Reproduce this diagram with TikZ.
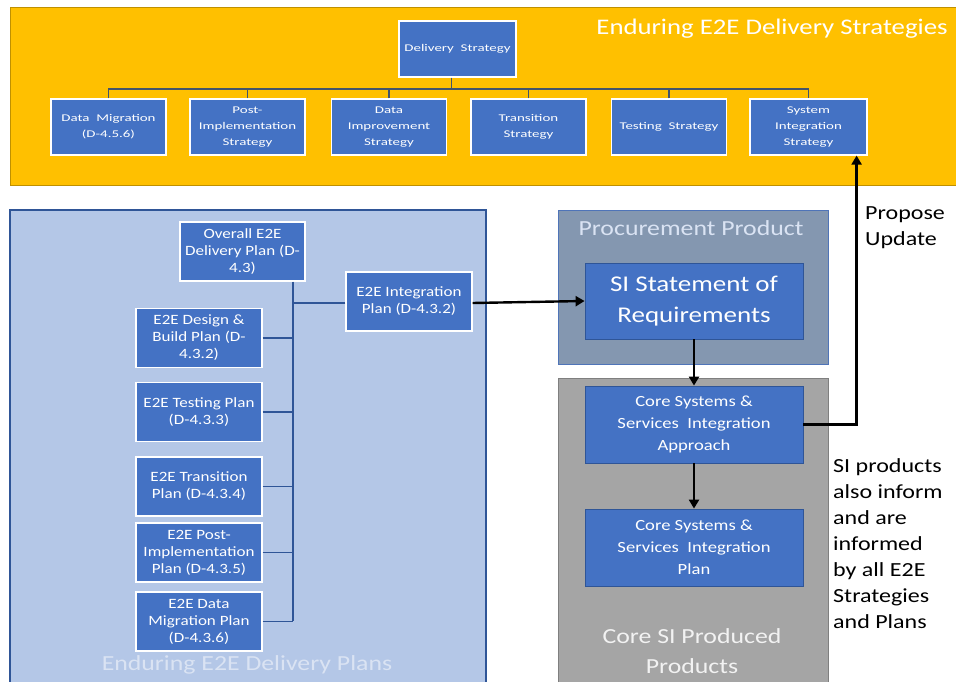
\documentclass[tikz,border=0pt]{standalone}
\usepackage{fontspec}
\setmainfont{Carlito}[FakeStretch=1.2]
\newfontfamily\tinyface{Carlito}[FakeStretch=1.45]
\usetikzlibrary{arrows.meta}
\definecolor{gold}{HTML}{FFC000}
\definecolor{goldedge}{HTML}{BF9000}
\definecolor{boxblue}{HTML}{4472C4}
\definecolor{deepblue}{HTML}{2F5597}
\definecolor{paleblue}{HTML}{B4C7E7}
\definecolor{slateblue}{HTML}{8497B0}
\definecolor{slatedge}{HTML}{4F74B8}
\definecolor{midgray}{HTML}{A5A5A5}
\definecolor{grayedge}{HTML}{7F7F7F}
\definecolor{slateline}{HTML}{44546A}
\definecolor{softwhite}{HTML}{F2F2F2}
\definecolor{paletext}{HTML}{DAE3F3}
\begin{document}
\begin{tikzpicture}[x=1pt,y=-1pt,
  stratbox/.style={draw=white, line width=1.2pt, fill=boxblue, text=white,
    align=center, inner sep=0pt, minimum width=115pt, minimum height=56pt,
    font=\tinyface\fontsize{10.3}{16}\selectfont},
  planbox/.style={draw=white, line width=1.2pt, fill=boxblue, text=white,
    align=center, inner sep=0pt, minimum width=126pt, minimum height=59pt,
    font=\fontsize{14.2}{17}\selectfont},
  corebox/.style={draw=deepblue, line width=0.8pt, fill=boxblue, text=white,
    align=center, inner sep=0pt, minimum width=218pt, minimum height=77pt,
    font=\fontsize{15.5}{22}\selectfont},
  orgline/.style={draw=slateline, line width=1.8pt},
  branch/.style={draw=deepblue, line width=1.8pt},
  trunkline/.style={draw=deepblue, line width=2.6pt},
  flow/.style={draw=black, line width=2.4pt, -{Triangle[length=9pt,width=10pt]}},
  heading/.style={inner sep=0pt, font=\fontsize{21.5}{30}\selectfont, align=center},
  note/.style={inner sep=0pt, font=\fontsize{20}{26}\selectfont, align=left, text=black}
]
\useasboundingbox (0,0) rectangle (956,682);
\clip (0,0) rectangle (956,682);

% background panels
\draw[fill=gold, draw=goldedge, line width=1pt] (10,8) rectangle (965,185);
\draw[fill=paleblue, draw=deepblue, line width=1.2pt] (10,210) rectangle (486,695);
\draw[fill=slateblue, draw=slatedge, line width=1pt] (558,210) rectangle (828,364);
\draw[fill=midgray, draw=grayedge, line width=1pt] (558,378) rectangle (828,695);

% panel headings
\node[heading, text=white, font=\fontsize{22.3}{30}\selectfont] (hStrat) at (772,29) {Enduring E2E Delivery Strategies};
\node[heading, text=paletext] (hPlans) at (247,665) {Enduring E2E Delivery Plans};
\node[heading, text=paletext] (hProc) at (691,228) {Procurement Product};
\node[heading, text=softwhite] (hCore) at (692,651) {Core SI Produced\\Products};

% strategies
\node[stratbox, minimum width=117pt] (ds) at (457.5,49) {Delivery\ \ Strategy};
\node[stratbox] (dm) at (108.5,127) {Data\ \ Migration\\(D-4.5.6)};
\node[stratbox] (pi) at (247.5,127) {Post-\\Implementation\\Strategy};
\node[stratbox] (di) at (389,127) {Data\\Improvement\\Strategy};
\node[stratbox] (ts) at (528.5,127) {Transition\\Strategy};
\node[stratbox] (tt) at (669,127) {Testing\ \ Strategy};
\node[stratbox, minimum width=117pt] (si) at (808.5,127) {System\\Integration\\Strategy};

\coordinate (bar) at (0,89);
\draw[orgline] ([xshift=-6pt]ds.south) -- ([xshift=-6pt]ds.south |- bar);
\draw[orgline] (dm.north) -- (dm.north |- bar) -| (si.north);
\foreach \n in {pi,di,ts,tt} \draw[orgline] (\n.north) -- (\n.north |- bar);

% plans
\node[planbox, minimum width=125pt] (ov) at (242.5,251.5) {Overall E2E\\Delivery Plan (D-\\4.3)};
\node[planbox] (ip) at (409,301.5) {E2E Integration\\Plan (D-4.3.2)};
\node[planbox] (db) at (199,338) {E2E Design \&\\Build Plan (D-\\4.3.2)};
\node[planbox] (tp) at (199,412) {E2E Testing Plan\\(D-4.3.3)};
\node[planbox] (tr) at (199,486.5) {E2E Transition\\Plan (D-4.3.4)};
\node[planbox] (pp) at (199,552.5) {E2E Post-\\Implementation\\Plan (D-4.3.5)};
\node[planbox] (mp) at (199,621.5) {E2E Data\\Migration Plan\\(D-4.3.6)};

\coordinate (trunk) at (293,0);
\foreach \n in {db,tp,tr,pp,mp} \draw[branch] (\n.east) -- (\n.east -| trunk);
\draw[branch] ([yshift=-1.5pt]ip.west) -- ([yshift=-1.5pt]ip.west -| trunk);
\draw[trunkline] (ov.south -| trunk) -- ([yshift=1pt]mp.east -| trunk);

% SI products
\node[corebox, minimum height=76pt, font=\fontsize{22.5}{31}\selectfont] (sis) at (694,301) {SI Statement of\\Requirements};
\node[corebox] (ca) at (694,424.5) {Core Systems \&\\Services\ \ Integration\\Approach};
\node[corebox] (cp) at (694,547.5) {Core Systems \&\\Services\ \ Integration\\Plan};

% flows
\draw[flow] ([yshift=-1.5pt]ip.east) -- (sis.west);
\draw[flow] (sis.south) -- (ca.north);
\draw[flow] (ca.south) -- (cp.north);
\draw[flow] (ca.east) -| ([xshift=-11pt]si.south east);

% side notes
\node[note, anchor=north west] (pu) at (865,206) {Propose\\Update};
\node[note, anchor=north west] (sn) at (833,458) {SI products\\also inform\\and are\\informed\\by all E2E\\Strategies\\and Plans};
\end{tikzpicture}
\end{document}
